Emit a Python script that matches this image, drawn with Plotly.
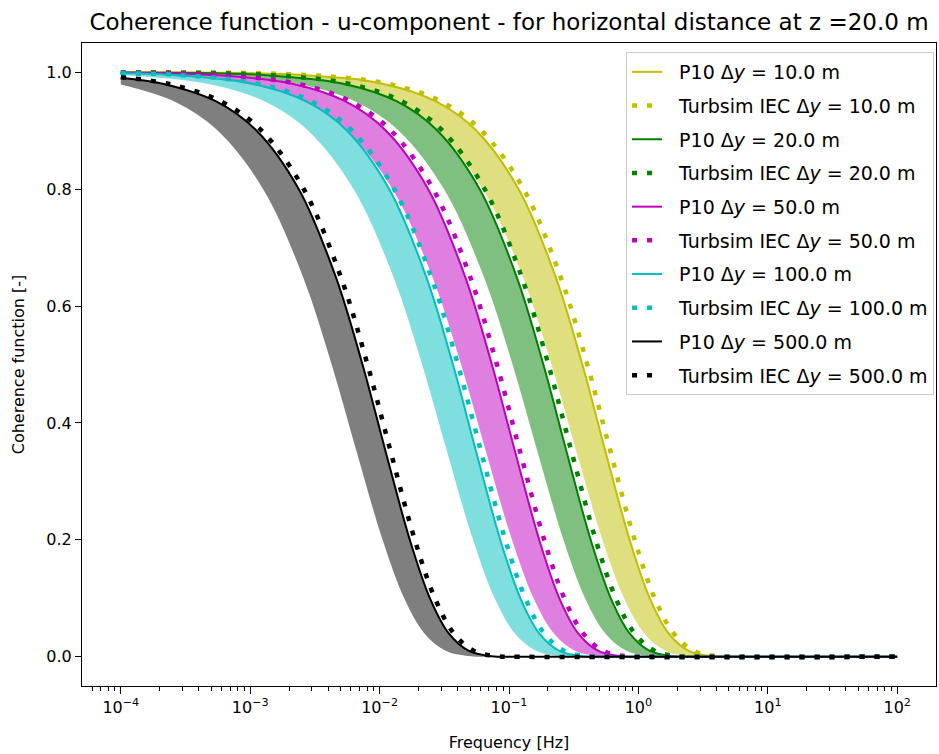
import plotly.graph_objects as go

# ---- data (frequency [Hz], coherence [-]) ----
# Delta y = 10 m  (yellow)
f_p10_10 = [1e-4, 2.6665e-3, 1.0745e-2, 2.7285e-2, 5.6045e-2, 0.1187, 0.22915, 0.3687, 0.5584, 0.8561, 1.2248, 1.71215, 2.44955, 3.67435, 5.5, 1e2]
c_p10_10 = [0.9998, 0.995, 0.98, 0.95, 0.9, 0.8, 0.65, 0.5, 0.35, 0.2, 0.1, 0.04, 0.01, 0.001, 0.0, 0.0]
f_iec_10 = [1e-4, 2.9145e-3, 1.1745e-2, 2.982e-2, 6.1255e-2, 0.129735, 0.25045, 0.403, 0.61035, 0.9357, 1.3387, 1.87145, 2.6774, 4.01615, 6.0, 1e2]
c_iec_10 = [0.9998, 0.995, 0.98, 0.95, 0.9, 0.8, 0.65, 0.5, 0.35, 0.2, 0.1, 0.04, 0.01, 0.001, 0.0, 0.0]
f_low_10 = [1e-4, 1.0635e-3, 4.759e-3, 1.296e-2, 2.8105e-2, 6.2985e-2, 0.127765, 0.21307, 0.33296, 0.52715, 0.7748, 1.11075, 1.6326, 2.5248, 3.8, 1e2]
c_low_10 = [0.9994, 0.995, 0.98, 0.95, 0.9, 0.8, 0.65, 0.5, 0.35, 0.2, 0.1, 0.04, 0.01, 0.001, 0.0, 0.0]

# Delta y = 20 m  (green)
f_p10_20 = [1e-4, 1.33325e-3, 5.3725e-3, 1.36425e-2, 2.80225e-2, 5.935e-2, 0.114575, 0.18435, 0.2792, 0.42805, 0.6124, 0.856075, 1.224775, 1.837175, 2.75, 1e2]
c_p10_20 = [0.9996, 0.995, 0.98, 0.95, 0.9, 0.8, 0.65, 0.5, 0.35, 0.2, 0.1, 0.04, 0.01, 0.001, 0.0, 0.0]
f_iec_20 = [1e-4, 1.45725e-3, 5.8725e-3, 1.491e-2, 3.06275e-2, 6.48675e-2, 0.125225, 0.2015, 0.305175, 0.46785, 0.66935, 0.935725, 1.3387, 2.008075, 3.0, 1e2]
c_iec_20 = [0.9997, 0.995, 0.98, 0.95, 0.9, 0.8, 0.65, 0.5, 0.35, 0.2, 0.1, 0.04, 0.01, 0.001, 0.0, 0.0]
f_low_20 = [1e-4, 5.3175e-4, 2.3795e-3, 6.48e-3, 1.40525e-2, 3.14925e-2, 6.38825e-2, 0.106535, 0.16648, 0.263575, 0.3874, 0.555375, 0.8163, 1.2624, 1.9, 1e2]
c_low_20 = [0.9989, 0.995, 0.98, 0.95, 0.9, 0.8, 0.65, 0.5, 0.35, 0.2, 0.1, 0.04, 0.01, 0.001, 0.0, 0.0]

# Delta y = 50 m  (magenta)
f_p10_50 = [1e-4, 5.333e-4, 2.149e-3, 5.457e-3, 1.1209e-2, 2.374e-2, 4.583e-2, 7.374e-2, 0.11168, 0.17122, 0.24496, 0.34243, 0.48991, 0.73487, 1.1, 1e2]
c_p10_50 = [0.9991, 0.995, 0.98, 0.95, 0.9, 0.8, 0.65, 0.5, 0.35, 0.2, 0.1, 0.04, 0.01, 0.001, 0.0, 0.0]
f_iec_50 = [1e-4, 5.829e-4, 2.349e-3, 5.964e-3, 1.2251e-2, 2.5947e-2, 5.009e-2, 8.060e-2, 0.12207, 0.18714, 0.26774, 0.37429, 0.53548, 0.80323, 1.2, 1e2]
c_iec_50 = [0.9991, 0.995, 0.98, 0.95, 0.9, 0.8, 0.65, 0.5, 0.35, 0.2, 0.1, 0.04, 0.01, 0.001, 0.0, 0.0]
f_low_50 = [1e-4, 2.127e-4, 9.518e-4, 2.592e-3, 5.621e-3, 1.2597e-2, 2.5553e-2, 4.2614e-2, 6.6592e-2, 0.10543, 0.15496, 0.22215, 0.32652, 0.50496, 0.76, 1e2]
c_low_50 = [0.9975, 0.995, 0.98, 0.95, 0.9, 0.8, 0.65, 0.5, 0.35, 0.2, 0.1, 0.04, 0.01, 0.001, 0.0, 0.0]

# Delta y = 100 m  (cyan)
f_p10_100 = [1e-4, 2.667e-4, 1.0745e-3, 2.7285e-3, 5.6045e-3, 1.187e-2, 2.2915e-2, 3.687e-2, 5.584e-2, 8.561e-2, 0.12248, 0.171215, 0.244955, 0.367435, 0.55, 1e2]
c_p10_100 = [0.9981, 0.995, 0.98, 0.95, 0.9, 0.8, 0.65, 0.5, 0.35, 0.2, 0.1, 0.04, 0.01, 0.001, 0.0, 0.0]
f_iec_100 = [1e-4, 2.9145e-4, 1.1745e-3, 2.982e-3, 6.1255e-3, 1.29735e-2, 2.5045e-2, 4.030e-2, 6.1035e-2, 9.357e-2, 0.13387, 0.187145, 0.26774, 0.401615, 0.6, 1e2]
c_iec_100 = [0.9983, 0.995, 0.98, 0.95, 0.9, 0.8, 0.65, 0.5, 0.35, 0.2, 0.1, 0.04, 0.01, 0.001, 0.0, 0.0]
f_low_100 = [1e-4, 4.759e-4, 1.296e-3, 2.8105e-3, 6.2985e-3, 1.27765e-2, 2.1307e-2, 3.3296e-2, 5.2715e-2, 7.748e-2, 0.111075, 0.16326, 0.25248, 0.38, 1e2]
c_low_100 = [0.9953, 0.98, 0.95, 0.9, 0.8, 0.65, 0.5, 0.35, 0.2, 0.1, 0.04, 0.01, 0.001, 0.0, 0.0]

# Delta y = 500 m  (black)
f_p10_500 = [1e-4, 2.149e-4, 5.457e-4, 1.1209e-3, 2.374e-3, 4.583e-3, 7.374e-3, 1.1168e-2, 1.7122e-2, 2.4496e-2, 3.4243e-2, 4.8991e-2, 7.3487e-2, 0.11, 1e2]
c_p10_500 = [0.9906, 0.98, 0.95, 0.9, 0.8, 0.65, 0.5, 0.35, 0.2, 0.1, 0.04, 0.01, 0.001, 0.0, 0.0]
f_iec_500 = [1e-4, 2.349e-4, 5.964e-4, 1.2251e-3, 2.5947e-3, 5.009e-3, 8.060e-3, 1.2207e-2, 1.8714e-2, 2.6774e-2, 3.7429e-2, 5.3548e-2, 8.0323e-2, 0.12, 1e2]
c_iec_500 = [0.9914, 0.98, 0.95, 0.9, 0.8, 0.65, 0.5, 0.35, 0.2, 0.1, 0.04, 0.01, 0.001, 0.0, 0.0]
f_low_500 = [1e-4, 2.592e-4, 5.621e-4, 1.2597e-3, 2.5553e-3, 4.2614e-3, 6.6592e-3, 1.0543e-2, 1.5496e-2, 2.2215e-2, 3.2652e-2, 5.0496e-2, 0.076, 1e2]
c_low_500 = [0.9791, 0.95, 0.9, 0.8, 0.65, 0.5, 0.35, 0.2, 0.1, 0.04, 0.01, 0.001, 0.0, 0.0]

distances = ["10.0", "20.0", "50.0", "100.0", "500.0"]
line_colors = ["#bfbf00", "#008000", "#bf00bf", "#00bfbf", "#000000"]
fill_colors = ["rgba(191,191,0,0.5)", "rgba(0,128,0,0.5)", "rgba(191,0,191,0.5)",
               "rgba(0,191,191,0.5)", "rgba(0,0,0,0.5)"]

x_tick_vals = [1e-4, 1e-3, 1e-2, 1e-1, 1e0, 1e1, 1e2]
x_tick_text = ["10<sup>−4</sup>", "10<sup>−3</sup>", "10<sup>−2</sup>", "10<sup>−1</sup>",
               "10<sup>0</sup>", "10<sup>1</sup>", "10<sup>2</sup>"]

series = [
    (f_p10_10, c_p10_10, f_iec_10, c_iec_10, f_low_10, c_low_10),
    (f_p10_20, c_p10_20, f_iec_20, c_iec_20, f_low_20, c_low_20),
    (f_p10_50, c_p10_50, f_iec_50, c_iec_50, f_low_50, c_low_50),
    (f_p10_100, c_p10_100, f_iec_100, c_iec_100, f_low_100, c_low_100),
    (f_p10_500, c_p10_500, f_iec_500, c_iec_500, f_low_500, c_low_500),
]

FONT = "DejaVu Sans"
PAD = "\u00a0\u00a0"
fig = go.Figure()

for i, (fp, cp, fi, ci, fl, cl) in enumerate(series):
    d = distances[i]
    col = line_colors[i]
    # lower edge of the band (invisible)
    fig.add_trace(go.Scatter(x=fl, y=cl, mode="lines", line=dict(width=0, color=col, shape="spline"),
                             showlegend=False, hoverinfo="skip"))
    # band, filled between lower edge and P10 curve
    fig.add_trace(go.Scatter(x=fp, y=cp, mode="lines", fill="tonexty", fillcolor=fill_colors[i],
                             line=dict(width=0, color=col, shape="spline"),
                             showlegend=False, hoverinfo="skip"))
    # P10 curve
    fig.add_trace(go.Scatter(x=fp, y=cp, mode="lines",
                             line=dict(width=2, color=col, shape="spline"),
                             name=f"{PAD}P10 Δ<i>y</i> = {d} m", legendgroup=f"p{i}"))
    # Turbsim IEC curve (dotted)
    fig.add_trace(go.Scatter(x=fi, y=ci, mode="lines",
                             line=dict(width=4.5, color=col, dash="5px,10px", shape="spline"),
                             name=f"{PAD}Turbsim IEC Δ<i>y</i> = {d} m", legendgroup=f"t{i}"))

fig.update_layout(
    width=939, height=754,
    margin=dict(l=82, r=3, t=43, b=68),
    paper_bgcolor="white", plot_bgcolor="white",
    font=dict(family=FONT, size=16, color="black"),
    title=dict(text="Coherence function - u-component - for horizontal distance at z =20.0 m",
               x=0.5, xref="paper", xanchor="center", y=1 - 22 / 754, yanchor="middle",
               font=dict(family=FONT, size=23, color="black")),
    legend=dict(x=0.9977, xanchor="right", y=0.986, yanchor="top",
                bgcolor="rgba(255,255,255,0.8)", bordercolor="#cccccc", borderwidth=1,
                font=dict(family=FONT, size=19, color="black"),
                traceorder="grouped", tracegroupgap=6),
    xaxis=dict(type="log", range=[-4.3, 2.3], tickvals=x_tick_vals, ticktext=x_tick_text,
               showline=True, linecolor="black", linewidth=1, mirror=True,
               ticks="outside", ticklen=7, tickcolor="black", showgrid=False, zeroline=False,
               tickfont=dict(family=FONT, size=16, color="black"),
               minor=dict(ticks="outside", ticklen=3.5, tickcolor="black", showgrid=False, dtick="D1"),
               title=dict(text="Frequency [Hz]", standoff=20, font=dict(family=FONT, size=16))),
    yaxis=dict(range=[-0.05, 1.05], dtick=0.2, tick0=0, tickformat=".1f",
               showline=True, linecolor="black", linewidth=1, mirror=True,
               ticks="outside", ticklen=6, tickcolor="black", showgrid=False, zeroline=False,
               tickfont=dict(family=FONT, size=16, color="black"),
               title=dict(text="Coherence function [-]", standoff=17, font=dict(family=FONT, size=16))),
)

fig.write_html("out.html")
